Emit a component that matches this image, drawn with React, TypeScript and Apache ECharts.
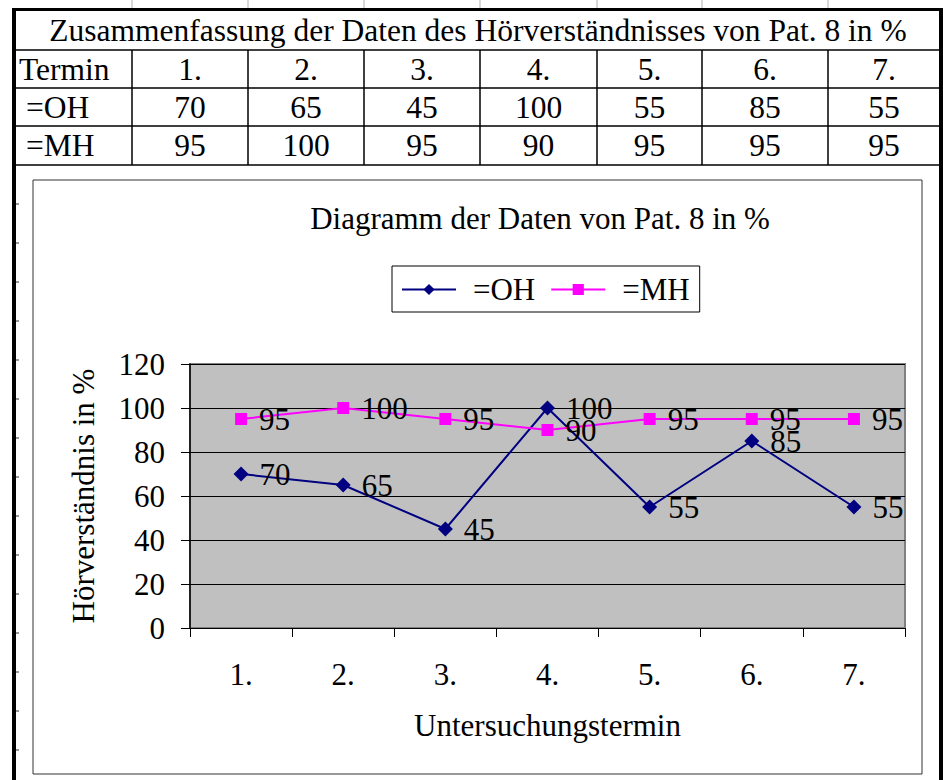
import React, { useEffect, useRef } from 'react';
import * as echarts from 'echarts';

// ---------- data ----------
const tableTitle = 'Zusammenfassung der Daten des Hörverständnisses von Pat. 8 in %';
const rowHeader = 'Termin';
const termine = ['1.', '2.', '3.', '4.', '5.', '6.', '7.'];
const ohName = '=OH';
const mhName = '=MH';
const ohValues = [70, 65, 45, 100, 55, 85, 55];
const mhValues = [95, 100, 95, 90, 95, 95, 95];
const chartTitle = 'Diagramm der Daten von Pat. 8 in %';
const yAxisTitle = 'Hörverständnis in %';
const xAxisTitle = 'Untersuchungstermin';
const yMin = 0;
const yMax = 120;
const yStep = 20;

// ---------- layout / style ----------
const FONT = 'Liberation Serif';
const FS = 31;
const FS_TABLE = 31.5;
const colX = [16, 132, 248, 364, 480, 597, 702, 828, 940];
const rowY = [10, 50, 88, 126, 165];

function buildGraphic() {
  const g: any[] = [];
  const line = (x1: number, y1: number, x2: number, y2: number, w: number, c = '#000') =>
    g.push({ type: 'line', shape: { x1, y1, x2, y2 }, style: { stroke: c, lineWidth: w }, silent: true });
  const text = (t: string, x: number, y: number, align: string) =>
    g.push({
      type: 'text', x, y, silent: true,
      style: { text: t, fill: '#000', fontFamily: FONT, fontSize: FS_TABLE, align, verticalAlign: 'middle' },
    });

  // faint marks above the table
  for (let i = 1; i < colX.length - 1; i++) line(colX[i], 0, colX[i], 8, 1, '#b0b0b0');
  // outer thick frame
  line(12, 9.5, 943, 9.5, 3);
  line(14, 8, 14, 780, 4);
  line(941, 8, 941, 780, 4);
  // small marks on the left frame
  for (let y = 204; y < 780; y += 39) line(16, y, 19, y, 1, '#333');
  // table inner lines
  for (let r = 1; r < rowY.length; r++) line(16, rowY[r], 939, rowY[r], 1.5);
  for (let c = 1; c < colX.length - 1; c++) line(colX[c], rowY[1], colX[c], rowY[rowY.length - 1], 1.5);

  // table texts
  text(tableTitle, (colX[0] + colX[colX.length - 1]) / 2, (rowY[0] + rowY[1]) / 2, 'center');
  const rows: [string, (string | number)[], number][] = [
    [rowHeader, termine, 19],
    [ohName, ohValues, 26],
    [mhName, mhValues, 26],
  ];
  rows.forEach(([label, vals, lx], r) => {
    const cy = (rowY[r + 1] + rowY[r + 2]) / 2;
    text(label, lx, cy, 'left');
    vals.forEach((v, i) => text(String(v), (colX[i + 1] + colX[i + 2]) / 2, cy, 'center'));
  });

  // chart box
  g.push({
    type: 'rect', silent: true, z: -10,
    shape: { x: 33, y: 180, width: 889, height: 594 },
    style: { fill: 'none', stroke: '#333', lineWidth: 1 },
  });
  return g;
}

export default function App() {
  const ref = useRef<HTMLDivElement>(null);
  useEffect(() => {
    if (!ref.current) return;
    const chart = echarts.init(ref.current, undefined, { renderer: 'svg' });
    const labelStyle = { fontFamily: FONT, fontSize: FS, color: '#000' };
    chart.setOption({
      animation: false,
      backgroundColor: '#fff',
      textStyle: { fontFamily: FONT },
      title: {
        text: chartTitle,
        left: 540,
        top: 203,
        textAlign: 'center',
        padding: 0,
        textStyle: { ...labelStyle, fontWeight: 'normal' },
      },
      legend: {
        left: 392,
        top: 266,
        padding: [8, 10, 7, 9],
        itemGap: 15,
        itemWidth: 54,
        itemHeight: 14,
        borderColor: '#000',
        borderWidth: 1,
        textStyle: { ...labelStyle, padding: [0, 0, 0, 12] },
        data: [ohName, mhName],
      },
      grid: {
        left: 190,
        top: 364,
        width: 715,
        height: 264,
        show: true,
        backgroundColor: '#C0C0C0',
        borderColor: '#808080',
        borderWidth: 2,
      },
      xAxis: {
        type: 'category',
        data: termine,
        boundaryGap: true,
        axisLine: { show: true, lineStyle: { color: '#000', width: 1 } },
        axisTick: { show: true, length: 9, alignWithLabel: false, lineStyle: { color: '#000' } },
        axisLabel: { ...labelStyle, margin: 31 },
        splitLine: { show: false },
        name: xAxisTitle,
        nameLocation: 'middle',
        nameGap: 82,
        nameTextStyle: labelStyle,
      },
      yAxis: {
        type: 'value',
        min: yMin,
        max: yMax,
        interval: yStep,
        axisLine: { show: true, lineStyle: { color: '#000', width: 1.5 } },
        axisTick: { show: true, length: 9, lineStyle: { color: '#000' } },
        axisLabel: { ...labelStyle, margin: 25 },
        splitLine: { show: true, lineStyle: { color: '#000', width: 1 } },
        name: yAxisTitle,
        nameLocation: 'middle',
        nameGap: 91,
        nameRotate: 90,
        nameTextStyle: labelStyle,
      },
      series: [
        {
          name: ohName,
          type: 'line',
          data: ohValues,
          symbol: 'diamond',
          symbolSize: 15,
          lineStyle: { color: '#000080', width: 2 },
          itemStyle: { color: '#000080' },
          label: { show: true, position: 'right', distance: 11, ...labelStyle },
        },
        {
          name: mhName,
          type: 'line',
          data: mhValues,
          symbol: 'rect',
          symbolSize: 12,
          lineStyle: { color: '#FF00FF', width: 2 },
          itemStyle: { color: '#FF00FF' },
          label: { show: true, position: 'right', distance: 12, ...labelStyle },
        },
      ],
      graphic: buildGraphic(),
    });
    return () => chart.dispose();
  }, []);
  return (
    <div
      ref={ref}
      style={{ position: 'fixed', left: 0, top: 0, width: 943, height: 780, background: '#fff' }}
    />
  );
}
